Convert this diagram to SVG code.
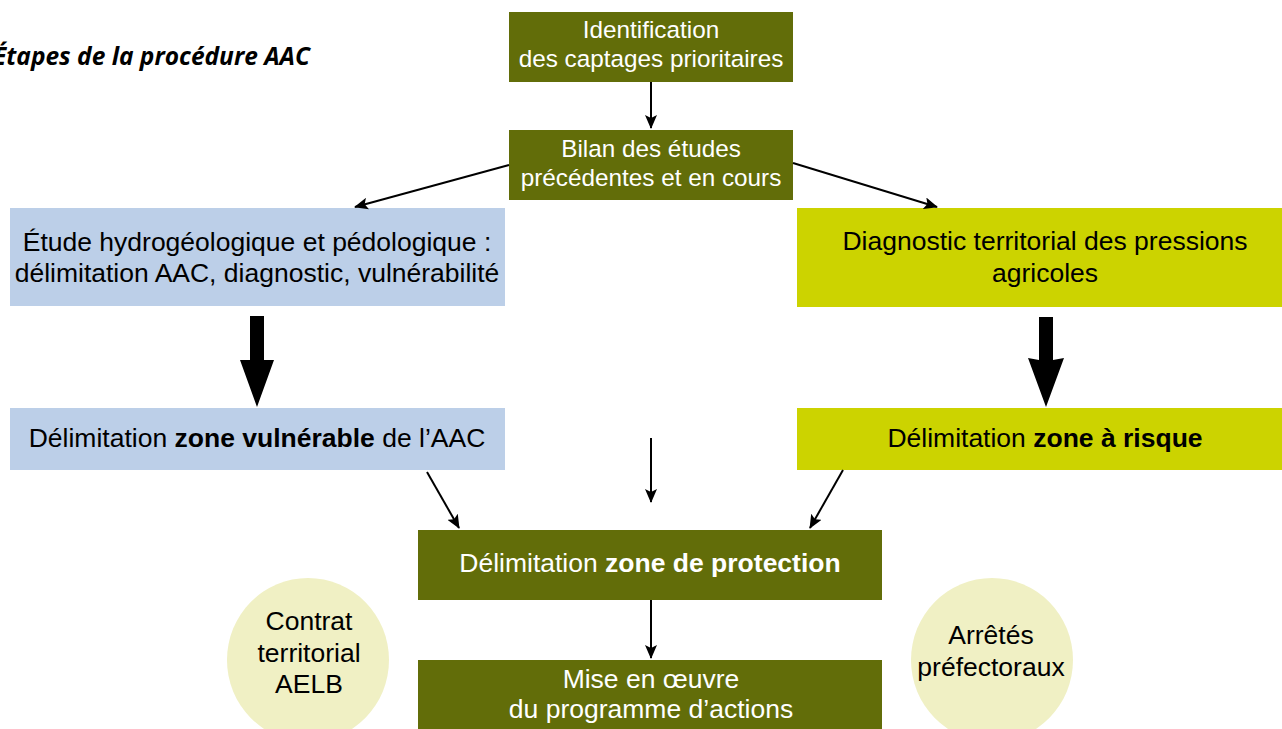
<svg xmlns="http://www.w3.org/2000/svg" width="1282" height="729" viewBox="0 0 1282 729">
<style>
.t{font-family:"Liberation Sans",Arial,sans-serif;font-size:26.5px;text-anchor:middle}
.s{font-size:24.3px}
.w{fill:#ffffff}
.k{fill:#000000}
.b{font-weight:bold}
.olive{fill:#626d09}
.blue{fill:#bccfe8}
.yel{fill:#ccd300}
.ell{fill:#f0f0c4}
.ln{stroke:#000;stroke-width:2;fill:none;marker-end:url(#ah)}
</style>
<defs>
<marker id="ah" markerWidth="14" markerHeight="12" refX="13" refY="6" orient="auto" markerUnits="userSpaceOnUse">
<path d="M0,0 L14,6 L0,12 L3,6 Z" fill="#000"/>
</marker>
</defs>
<rect width="1282" height="729" fill="#fff"/>
<text x="310" y="65" font-family="'Open Sans','DejaVu Sans',sans-serif" font-size="24.5" font-weight="bold" font-style="italic" text-anchor="end" fill="#000">Étapes de la procédure AAC</text>

<g id="n1"><rect class="olive" x="509" y="12" width="284" height="70"/>
<text class="t s w" x="651" y="38">Identification</text>
<text class="t s w" x="651" y="67">des captages prioritaires</text></g>

<g id="n2"><rect class="olive" x="509" y="130" width="284" height="70"/>
<text class="t s w" x="651" y="157">Bilan des études</text>
<text class="t s w" x="651" y="186">précédentes et en cours</text></g>

<g id="n3"><rect class="blue" x="10" y="208" width="495" height="98"/>
<text class="t k" x="257" y="251">Étude hydrogéologique et pédologique :</text>
<text class="t k" x="257" y="282">délimitation AAC, diagnostic, vulnérabilité</text></g>

<g id="n4"><rect class="yel" x="797" y="208" width="485" height="99"/>
<text class="t k" x="1045" y="250">Diagnostic territorial des pressions</text>
<text class="t k" x="1045" y="282">agricoles</text></g>

<g id="n5"><rect class="blue" x="10" y="408" width="495" height="62"/>
<text class="t k" x="257" y="447">Délimitation <tspan class="b">zone vulnérable</tspan> de l’AAC</text></g>

<g id="n6"><rect class="yel" x="797" y="408" width="485" height="62"/>
<text class="t k" x="1045" y="447">Délimitation <tspan class="b">zone à risque</tspan></text></g>

<g id="n7"><rect class="olive" x="418" y="530" width="464" height="70"/>
<text class="t w" x="650" y="572">Délimitation <tspan class="b">zone de protection</tspan></text></g>

<g id="n8"><rect class="olive" x="418" y="660" width="464" height="69"/>
<text class="t w" x="651" y="688">Mise en œuvre</text>
<text class="t w" x="651" y="718">du programme d’actions</text></g>

<g id="n9"><ellipse class="ell" cx="308" cy="660" rx="81" ry="82"/>
<text class="t k" x="309" y="630">Contrat</text>
<text class="t k" x="309" y="662">territorial</text>
<text class="t k" x="309" y="693">AELB</text></g>

<g id="n10"><ellipse class="ell" cx="992" cy="660" rx="81" ry="82"/>
<text class="t k" x="991" y="644">Arrêtés</text>
<text class="t k" x="991" y="676">préfectoraux</text></g>

<g id="connectors">
<line class="ln" x1="651" y1="82" x2="651" y2="128"/>
<line class="ln" x1="509" y1="165" x2="355" y2="207"/>
<line class="ln" x1="793" y1="163" x2="937" y2="207"/>
<path d="M250,316 H264 V360 L274,360 L257,407 L240,360 L250,360 Z" fill="#000"/>
<path d="M1039,317 H1053 V360 L1064,358 L1046,407 L1028,358 L1039,360 Z" fill="#000"/>
<line class="ln" x1="427" y1="472" x2="459" y2="528"/>
<line class="ln" x1="651" y1="438" x2="651" y2="502"/>
<line class="ln" x1="843" y1="470" x2="810" y2="528"/>
<line class="ln" x1="651" y1="600" x2="651" y2="658"/>
</g>
</svg>
